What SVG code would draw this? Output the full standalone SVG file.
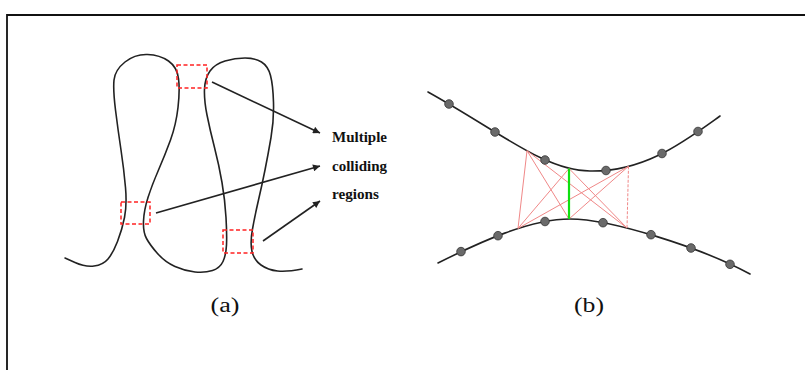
<svg xmlns="http://www.w3.org/2000/svg" width="805" height="370" viewBox="0 0 805 370">
<style>
.curve{fill:none;stroke:#222;stroke-width:1.6;stroke-linecap:round;stroke-linejoin:round}
.box{fill:none;stroke:#f22;stroke-width:1.5;stroke-dasharray:4 2.5}
.arrow{fill:none;stroke:#222;stroke-width:1.6}
.red{stroke:#f08888;stroke-width:1}
.dot{fill:#6a6a6a;stroke:#333;stroke-width:0.8}
.lbl{font-family:"Liberation Serif",serif;fill:#111}
</style>
<defs>
<marker id="ah" viewBox="0 0 10 10" refX="10" refY="5" markerWidth="9" markerHeight="7" markerUnits="userSpaceOnUse" orient="auto">
<path d="M0,0 L10,5 L0,10 z" fill="#222"/>
</marker>
</defs>
<rect width="805" height="370" fill="#fff"/>
<path d="M7,370 L7,15 L805,15" fill="none" stroke="#111" stroke-width="1.8"/>

<g id="part-a">
<path class="curve" d="M65,258 L75,262.5 Q85,267 94,266 Q103,265 108,259 Q113,253 117.5,241.5 Q122,230 124.5,217.5 Q127,205 125.5,187.5 Q124,170 121,150 Q118,130 115.5,110 Q113,90 114,80 Q115,70 125,62 Q135,54 147.5,54.5 Q160,55 168.5,61 Q177,67 178.5,78.5 Q180,90 178,107.5 Q176,125 170.5,140 Q165,155 158.5,170 Q152,185 148,197.5 Q144,210 143.5,221 Q143,232 146.5,238.5 Q150,245 157.5,253.5 Q165,262 175,266.5 Q185,271 195,272 Q205,273 212.5,270.5 Q220,268 223,261.5 Q226,255 226.5,245 Q227,235 226,217.5 Q225,200 222,182.5 Q219,165 214.5,147.5 Q210,130 207,115 Q204,100 204.5,89 Q205,78 210,71 Q215,64 225,61 Q235,58 245,58 Q255,58 261.5,62 Q268,66 270.5,75.5 Q273,85 273.5,102.5 Q274,120 271,137.5 Q268,155 265,170 Q262,185 258.5,200 Q255,215 252.5,229 Q250,243 252,251.5 Q254,260 261,265 Q268,270 277.5,271 Q287,272 302,269"/>
</g>
<g id="region-top"><rect class="box" x="177" y="65" width="30" height="23"/></g>
<g id="region-left"><rect class="box" x="121" y="202" width="29" height="22"/></g>
<g id="region-right"><rect class="box" x="223" y="230" width="30" height="23"/></g>
<g id="label-multiple">
<text class="lbl" x="332" y="142" font-size="14" font-weight="bold" textLength="55" lengthAdjust="spacingAndGlyphs">Multiple</text>
<text class="lbl" x="332" y="171" font-size="14" font-weight="bold" textLength="55" lengthAdjust="spacingAndGlyphs">colliding</text>
<text class="lbl" x="332" y="199" font-size="14" font-weight="bold" textLength="47" lengthAdjust="spacingAndGlyphs">regions</text>
</g>
<g id="connectors">
<line class="arrow" x1="212" y1="82" x2="320" y2="133" marker-end="url(#ah)"/>
<line class="arrow" x1="156" y1="213" x2="320" y2="166" marker-end="url(#ah)"/>
<line class="arrow" x1="263" y1="241" x2="320" y2="201" marker-end="url(#ah)"/>
</g>
<g id="caption-a"><text class="lbl" x="225" y="312" font-size="20" text-anchor="middle" textLength="29" lengthAdjust="spacingAndGlyphs">(a)</text></g>

<g id="part-b">
<path class="curve" d="M428,92 C500,132 545,171 590,171 C645,172 685,141 720,116"/>
<path class="curve" d="M438,263 C480,242 530,219 570,219 C610,219 700,247 750,274"/>
<g id="red-links">
<line class="red" x1="527" y1="150.7" x2="518" y2="228.4"/>
<line class="red" x1="527" y1="150.7" x2="569" y2="219"/>
<line class="red" x1="527" y1="150.7" x2="627" y2="228"/>
<line class="red" x1="518" y1="228.4" x2="569" y2="168.5"/>
<line class="red" x1="518" y1="228.4" x2="628.5" y2="166.3"/>
<line class="red" x1="569" y1="168.5" x2="627" y2="228"/>
<line class="red" x1="569" y1="219" x2="628.5" y2="166.3"/>
<line class="red" x1="628.5" y1="166.3" x2="627" y2="228" stroke-dasharray="3 1.5"/>
</g>
<line x1="569" y1="168.5" x2="569" y2="219" stroke="#10e010" stroke-width="2.2"/>
<g id="dots">
<circle class="dot" cx="449" cy="104" r="4.3"/>
<circle class="dot" cx="495" cy="132" r="4.3"/>
<circle class="dot" cx="545" cy="160" r="4.3"/>
<circle class="dot" cx="606" cy="170.5" r="4.3"/>
<circle class="dot" cx="662" cy="153.5" r="4.3"/>
<circle class="dot" cx="698" cy="131.5" r="4.3"/>
<circle class="dot" cx="461" cy="251.6" r="4.3"/>
<circle class="dot" cx="498" cy="235.7" r="4.3"/>
<circle class="dot" cx="545" cy="221.5" r="4.3"/>
<circle class="dot" cx="603" cy="222.7" r="4.3"/>
<circle class="dot" cx="651" cy="234.7" r="4.3"/>
<circle class="dot" cx="691" cy="248" r="4.3"/>
<circle class="dot" cx="730" cy="264.3" r="4.3"/>
</g>
</g>
<g id="caption-b"><text class="lbl" x="589" y="312" font-size="20" text-anchor="middle" textLength="30" lengthAdjust="spacingAndGlyphs">(b)</text></g>
</svg>
